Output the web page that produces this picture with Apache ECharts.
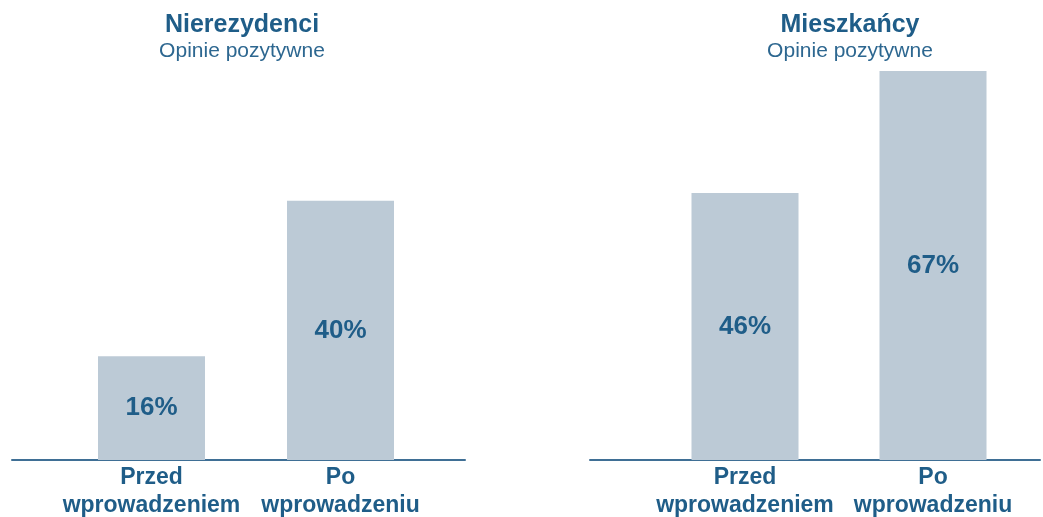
<!DOCTYPE html>
<html><head><meta charset="utf-8">
<script src="https://cdn.jsdelivr.net/npm/echarts@6/dist/echarts.min.js"></script>
<style>html,body{margin:0;padding:0;background:#fff}#c{width:1043px;height:517px}</style>
</head><body><div id="c"></div>
<script>
const categories = ['Przed\nwprowadzeniem', 'Po\nwprowadzeniu'];
const panelTitles = ['Nierezydenci', 'Mieszkańcy'];
const panelSubtitle = 'Opinie pozytywne';
const nierezydenci = [16, 40];
const mieszkancy = [46, 67];
const yMax = [60, 67];

const DARK = '#1f5d88';
const BAR = '#bccad6';
const FONT = '"Liberation Sans", Arial, sans-serif';

const chart = echarts.init(document.getElementById('c'));
const panels = [
  {data: nierezydenci, center: 237, bars: {left: 57, width: 378}, line: {left: 12, width: 453}},
  {data: mieszkancy, center: 845, bars: {left: 651, width: 376}, line: {left: 590, width: 450}}
];
const grids = [], xAxes = [], yAxes = [], series = [], titles = [];
panels.forEach((p, i) => {
  titles.push({
    text: panelTitles[i], subtext: panelSubtitle, left: p.center, top: 8, textAlign: 'center',
    textStyle: {fontFamily: FONT, fontSize: 25, fontWeight: 'bold', color: DARK},
    subtextStyle: {fontFamily: FONT, fontSize: 21, color: '#2d6790'}, itemGap: 3
  });
  grids.push({left: p.bars.left, width: p.bars.width, top: 71, bottom: 57, outerBoundsMode: 'none', containLabel: false});
  grids.push({left: p.line.left, width: p.line.width, top: 71, bottom: 57, outerBoundsMode: 'none', containLabel: false});
  const gBar = i * 2, gLine = i * 2 + 1;
  xAxes.push({
    type: 'category', gridIndex: gBar, data: categories,
    axisLine: {show: false}, axisTick: {show: false},
    axisLabel: {fontFamily: FONT, fontSize: 23, fontWeight: 'bold', color: DARK, lineHeight: 28, margin: 4, interval: 0}
  });
  xAxes.push({
    type: 'category', gridIndex: gLine, data: [''],
    axisLine: {show: true, lineStyle: {color: '#3f6f95', width: 2}},
    axisTick: {show: false}, axisLabel: {show: false}
  });
  yAxes.push({type: 'value', gridIndex: gBar, min: 0, max: yMax[i], show: false, splitLine: {show: false}});
  yAxes.push({type: 'value', gridIndex: gLine, min: 0, max: 1, show: false, splitLine: {show: false}});
  series.push({
    type: 'bar', xAxisIndex: xAxes.length - 2, yAxisIndex: yAxes.length - 2,
    data: p.data, barWidth: 107, itemStyle: {color: BAR}, silent: true,
    label: {show: true, position: 'inside', formatter: '{c}%', fontFamily: FONT, fontSize: 26, fontWeight: 'bold', color: DARK}
  });
});
chart.setOption({animation: false, title: titles, grid: grids, xAxis: xAxes, yAxis: yAxes, series: series});
</script></body></html>
